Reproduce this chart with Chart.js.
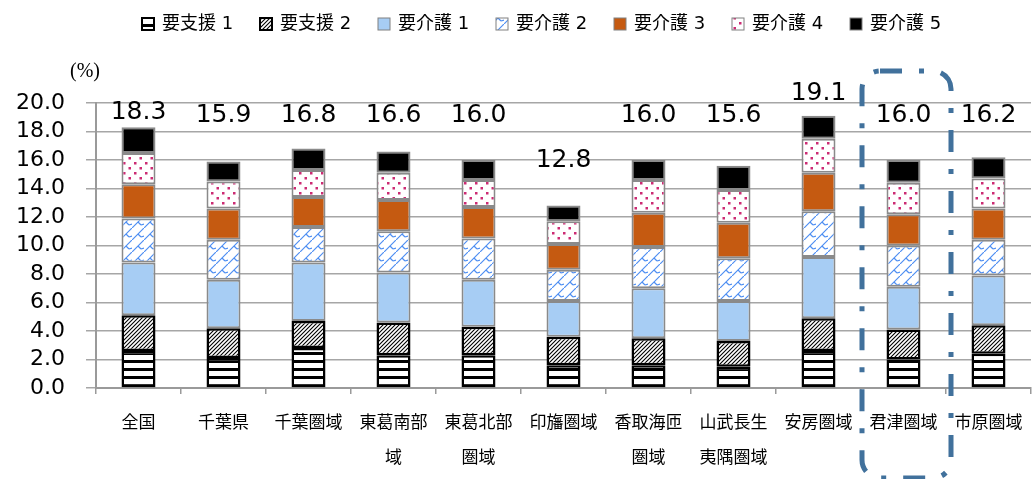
<!DOCTYPE html>
<html lang="ja">
<head>
<meta charset="utf-8">
<script src="https://cdn.jsdelivr.net/npm/chart.js@4/dist/chart.umd.min.js"></script>
<style>
  html,body{margin:0;padding:0;background:#fff;}
  #wrap{width:1033px;height:479px;position:relative;}
</style>
</head>
<body>
<div id="wrap"><canvas id="c"></canvas></div>
<script>
// categories and series (% of population certified, by care level)
const categories = ['全国', '千葉県', '千葉圏域', ['東葛南部', '域'], ['東葛北部', '圏域'], '印旛圏域',
  ['香取海匝', '圏域'], ['山武長生', '夷隅圏域'], '安房圏域', '君津圏域', '市原圏域'];
const seriesNames = ['要支援 1', '要支援 2', '要介護 1', '要介護 2', '要介護 3', '要介護 4', '要介護 5'];
const shien1 = [2.6, 2.1, 2.8, 2.3, 2.3, 1.6, 1.6, 1.5, 2.6, 2.0, 2.4];
const shien2 = [2.5, 2.1, 1.9, 2.3, 2.0, 2.0, 1.9, 1.8, 2.3, 2.1, 2.0];
const kaigo1 = [3.7, 3.4, 4.1, 3.5, 3.3, 2.5, 3.5, 2.8, 4.3, 3.0, 3.5];
const kaigo2 = [3.1, 2.8, 2.5, 2.9, 2.9, 2.2, 2.9, 3.0, 3.2, 2.9, 2.5];
const kaigo3 = [2.4, 2.2, 2.1, 2.2, 2.2, 1.8, 2.4, 2.5, 2.7, 2.2, 2.2];
const kaigo4 = [2.2, 1.9, 1.9, 1.9, 1.9, 1.6, 2.3, 2.3, 2.4, 2.2, 2.1];
const kaigo5 = [1.8, 1.4, 1.5, 1.5, 1.4, 1.1, 1.4, 1.7, 1.6, 1.6, 1.5];
const yTicks = [0, 2, 4, 6, 8, 10, 12, 14, 16, 18, 20];

// --- fill patterns (Excel-style) ---
function makePattern(w, h, draw) {
  const cv = document.createElement('canvas');
  cv.width = w; cv.height = h;
  const g = cv.getContext('2d');
  g.fillStyle = '#fff'; g.fillRect(0, 0, w, h);
  draw(g, w, h);
  return g.createPattern(cv, 'repeat');
}
const ctx = document.getElementById('c').getContext('2d');

const pHStripe = makePattern(8, 8, g => { g.fillStyle = '#000'; g.fillRect(0, 0, 8, 3); });
const pDiag = makePattern(4, 4, g => {
  g.strokeStyle = '#000'; g.lineWidth = 1.1;
  g.beginPath();
  g.moveTo(0, 4); g.lineTo(4, 0);
  g.moveTo(-1, 1); g.lineTo(1, -1);
  g.moveTo(3, 5); g.lineTo(5, 3);
  g.stroke();
});
const pBrick = makePattern(12, 12, g => {
  g.strokeStyle = '#4f8ff2'; g.lineWidth = 1.2;
  g.beginPath();
  g.moveTo(0, 12); g.lineTo(12, 0);
  g.moveTo(6, 6); g.lineTo(9, 9);
  g.moveTo(9, 9); g.lineTo(12, 8);
  g.stroke();
});
const pDots = makePattern(11, 10, g => {
  g.fillStyle = '#cc2b73';
  g.fillRect(2, 2, 2.5, 2.5);
  g.fillRect(7.5, 7, 2.5, 2.5);
});

const fills   = [pHStripe, pDiag, '#a7cdf4', pBrick, '#c55a11', pDots, '#000000'];
const borders = ['#000', '#000', '#8a8a8a', '#8a8a8a', '#8a8a8a', '#8a8a8a', '#8a8a8a'];
const bWidths = [2.5, 2.5, 2, 2, 2, 2, 2];
const values  = [shien1, shien2, kaigo1, kaigo2, kaigo3, kaigo4, kaigo5];

const datasets = values.map((v, i) => ({
  label: seriesNames[i],
  data: v,
  backgroundColor: fills[i],
  borderColor: borders[i],
  borderWidth: bWidths[i],
  borderSkipped: false,
  barPercentage: 0.4,
  categoryPercentage: 1.0,
}));

// totals above bars, custom legend, unit label and the dash-dot frame
const extras = {
  id: 'extras',
  afterDatasetsDraw(chart) {
    const c = chart.ctx;
    const y = chart.scales.y;
    const last = chart.getDatasetMeta(values.length - 1);
    c.save();
    c.font = '25px "DejaVu Sans"';
    c.fillStyle = '#000';
    c.textAlign = 'center';
    c.textBaseline = 'middle';
    categories.forEach((_, i) => {
      const total = values.reduce((s, arr) => s + arr[i], 0);
      const top = y.getPixelForValue(total);
      let ly;
      if (total < 14) ly = top - 45;
      else if (total > 19) ly = top - 22;
      else ly = Math.min(115, top - 15);
      c.fillText(total.toFixed(1), last.data[i].x, ly);
    });
    c.restore();
  },
  afterDraw(chart) {
    const c = chart.ctx;
    c.save();
    // legend
    c.font = '18px "DejaVu Sans", "Noto Sans CJK JP"';
    c.textBaseline = 'middle';
    c.textAlign = 'left';
    seriesNames.forEach((name, i) => {
      const x = 142 + i * 118;
      c.fillStyle = fills[i];
      c.fillRect(x, 18, 12, 12);
      c.strokeStyle = i < 2 ? '#000' : '#808080';
      c.lineWidth = i < 2 ? 2 : 1;
      c.strokeRect(x, 18, 12, 12);
      c.fillStyle = '#000';
      c.fillText(name, x + 20, 24);
    });
    // unit
    c.font = '20px "Liberation Serif"';
    c.fillText('(%)', 70, 72);
    // dash-dot frame around 君津圏域
    c.strokeStyle = '#41719c';
    c.lineWidth = 5;
    c.setLineDash([22, 17, 5, 17]);
    c.beginPath();
    c.roundRect(862, 71, 89, 407, 18);
    c.stroke();
    c.restore();
  }
};

new Chart(ctx, {
  type: 'bar',
  data: { labels: categories, datasets },
  options: {
    responsive: true,
    maintainAspectRatio: false,
    animation: false,
    layout: { padding: { top: 103, right: 2, left: 0, bottom: 0 } },
    plugins: { legend: { display: false }, tooltip: { enabled: false } },
    scales: {
      x: {
        stacked: true,
        grid: { drawOnChartArea: false, drawTicks: true, tickLength: 6, color: '#9a9a9a', lineWidth: 1.5 },
        border: { color: '#9a9a9a', width: 2 },
        ticks: {
          autoSkip: false, maxRotation: 0, padding: 10, color: '#000',
          font: { family: '"Noto Sans CJK JP"', size: 17, lineHeight: 2.06 }
        },
        afterFit: s => { s.height = 91; }
      },
      y: {
        stacked: true,
        min: 0, max: 20,
        afterBuildTicks: s => { s.ticks = yTicks.map(v => ({ value: v })); },
        grid: { color: '#a6a6a6', lineWidth: 1.5, tickLength: 10 },
        border: { color: '#9a9a9a', width: 2 },
        ticks: {
          autoSkip: false, padding: 21, color: '#000',
          font: { family: '"DejaVu Sans"', size: 22 },
          callback: v => v.toFixed(1)
        },
        afterFit: s => { s.width = 96; }
      }
    }
  },
  plugins: [extras]
});
</script>
</body>
</html>
